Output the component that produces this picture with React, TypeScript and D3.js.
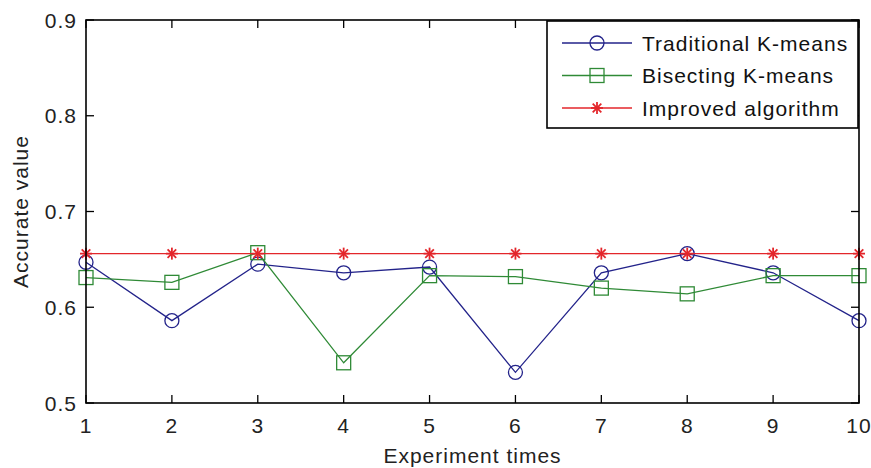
import React from "react";
import * as d3 from "d3";

const experiments = [1, 2, 3, 4, 5, 6, 7, 8, 9, 10];
const traditional = [0.647, 0.586, 0.645, 0.636, 0.642, 0.532, 0.636, 0.656, 0.636, 0.586];
const bisecting = [0.631, 0.626, 0.657, 0.542, 0.633, 0.632, 0.620, 0.614, 0.633, 0.633];
const improved = [0.656, 0.656, 0.656, 0.656, 0.656, 0.656, 0.656, 0.656, 0.656, 0.656];
const yTicks = [0.5, 0.6, 0.7, 0.8, 0.9];
const xTicks = [1, 2, 3, 4, 5, 6, 7, 8, 9, 10];
const seriesNames = ["Traditional K-means", "Bisecting K-means", "Improved algorithm"];

const W = 871;
const H = 468;
const L = 86, R = 859, T = 20, B = 403;
const FONT = "'Liberation Sans', Arial, sans-serif";
const FS = 21;
const LS = 1;

const BLUE = "#23238a";
const GREEN = "#2f8a36";
const RED = "#e3262b";

function Marker({ kind, x, y, color }: { kind: string; x: number; y: number; color: string }) {
  if (kind === "circle") {
    return <circle cx={x} cy={y} r={7} fill="none" stroke={color} strokeWidth={1.3} />;
  }
  if (kind === "square") {
    return <rect x={x - 7} y={y - 7} width={14} height={14} fill="none" stroke={color} strokeWidth={1.3} />;
  }
  const s = 6;
  const d = 4.3;
  return (
    <g stroke={color} strokeWidth={1.8}>
      <line x1={x - s} y1={y} x2={x + s} y2={y} />
      <line x1={x} y1={y - s} x2={x} y2={y + s} />
      <line x1={x - d} y1={y - d} x2={x + d} y2={y + d} />
      <line x1={x - d} y1={y + d} x2={x + d} y2={y - d} />
    </g>
  );
}

export default function App() {
  const x = d3.scaleLinear().domain([1, 10]).range([L, R]);
  const y = d3.scaleLinear().domain([0.5, 0.9]).range([B, T]);
  const line = d3
    .line<[number, number]>()
    .x((d) => x(d[0]))
    .y((d) => y(d[1]));

  const series = [
    { name: seriesNames[0], values: traditional, color: BLUE, kind: "circle" },
    { name: seriesNames[1], values: bisecting, color: GREEN, kind: "square" },
    { name: seriesNames[2], values: improved, color: RED, kind: "star" },
  ];

  const tickLen = 8;
  const legX0 = 547, legX1 = 858, legY0 = 21, legY1 = 128;
  const rowYs = [43, 75.5, 108];

  return (
    <svg
      width={W}
      height={H}
      style={{ position: "absolute", left: 0, top: 0, background: "#fff" }}
      fontFamily={FONT}
    >
      <rect x={0} y={0} width={W} height={H} fill="#fff" />
      {/* data */}
      {series.map((s) => (
        <g key={s.name}>
          <path
            d={line(experiments.map((e, i) => [e, s.values[i]] as [number, number])) || ""}
            fill="none"
            stroke={s.color}
            strokeWidth={1.3}
          />
          {experiments.map((e, i) => (
            <Marker key={i} kind={s.kind} x={x(e)} y={y(s.values[i])} color={s.color} />
          ))}
        </g>
      ))}
      {/* axes box */}
      <rect x={L} y={T} width={R - L} height={B - T} fill="none" stroke="#000" strokeWidth={1.6} />
      {/* x ticks */}
      {xTicks.map((t) => (
        <g key={"x" + t}>
          <line x1={x(t)} x2={x(t)} y1={B} y2={B - tickLen} stroke="#000" strokeWidth={1.3} />
          <line x1={x(t)} x2={x(t)} y1={T} y2={T + tickLen} stroke="#000" strokeWidth={1.3} />
          <text
            x={x(t)}
            y={433}
            textAnchor="middle"
            fontSize={FS}
            letterSpacing={LS}
            fill="#222"
          >
            {t}
          </text>
        </g>
      ))}
      {/* y ticks */}
      {yTicks.map((t) => (
        <g key={"y" + t}>
          <line x1={L} x2={L + tickLen} y1={y(t)} y2={y(t)} stroke="#000" strokeWidth={1.3} />
          <line x1={R} x2={R - tickLen} y1={y(t)} y2={y(t)} stroke="#000" strokeWidth={1.3} />
          <text
            x={77}
            y={y(t) + 7.5}
            textAnchor="end"
            fontSize={FS}
            letterSpacing={LS}
            fill="#222"
          >
            {t.toFixed(1)}
          </text>
        </g>
      ))}
      {/* axis titles */}
      <text x={(L + R) / 2} y={463} textAnchor="middle" fontSize={FS} letterSpacing={LS} fill="#222">
        Experiment times
      </text>
      <text
        transform={`translate(28, ${(T + B) / 2}) rotate(-90)`}
        textAnchor="middle"
        fontSize={FS}
        letterSpacing={LS}
        fill="#222"
      >
        Accurate value
      </text>
      {/* legend */}
      <rect
        x={legX0}
        y={legY0}
        width={legX1 - legX0}
        height={legY1 - legY0}
        fill="#fff"
        stroke="#000"
        strokeWidth={1.6}
      />
      {series.map((s, i) => (
        <g key={"leg" + i}>
          <line x1={562} x2={632} y1={rowYs[i]} y2={rowYs[i]} stroke={s.color} strokeWidth={1.3} />
          <Marker kind={s.kind} x={597} y={rowYs[i]} color={s.color} />
          <text x={642} y={rowYs[i] + 7.5} fontSize={FS} letterSpacing={LS} fill="#111">
            {s.name}
          </text>
        </g>
      ))}
    </svg>
  );
}
